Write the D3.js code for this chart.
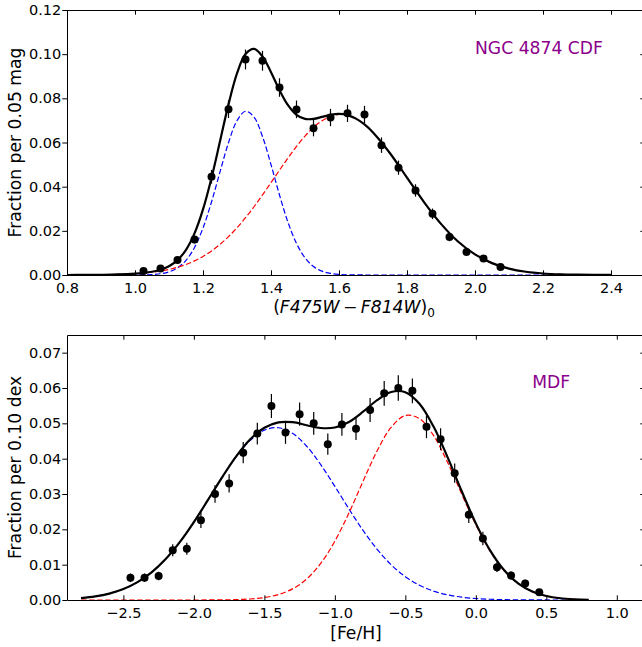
<!DOCTYPE html>
<html>
<head>
<meta charset="utf-8">
<script src="https://cdn.jsdelivr.net/npm/d3@7"></script>
<style>
  body { margin: 0; background: #fff; }
  svg { display: block; font-family: "DejaVu Sans", sans-serif; }
</style>
</head>
<body>
<svg id="chart" width="642" height="647"></svg>
<script>
/* global d3 */

// ---- top panel: colour distribution (CDF) ----
const cdfBinX = [1.025, 1.075, 1.125, 1.175, 1.225, 1.275, 1.325, 1.375, 1.425, 1.475, 1.525,
                 1.575, 1.625, 1.675, 1.725, 1.775, 1.825, 1.875, 1.925, 1.975, 2.025, 2.075];
const cdfFrac = [0.0018, 0.0030, 0.0068, 0.0161, 0.0445, 0.0751, 0.0976, 0.0970, 0.0849, 0.0750, 0.0665,
                 0.0713, 0.0732, 0.0727, 0.0588, 0.0486, 0.0383, 0.0277, 0.0172, 0.0104, 0.0075, 0.0036];
const cdfErr  = [0.0006, 0.0008, 0.0012, 0.0018, 0.0031, 0.0040, 0.0045, 0.0045, 0.0042, 0.0040, 0.0037,
                 0.0039, 0.0039, 0.0039, 0.0035, 0.0032, 0.0028, 0.0024, 0.0019, 0.0015, 0.0013, 0.0009];

// fitted curves
const cdfGridX = [0.8, 0.85, 0.9, 0.95, 1.0, 1.025, 1.05, 1.075, 1.1, 1.125, 1.15, 1.175, 1.2, 1.225, 1.25,
                  1.275, 1.3, 1.325, 1.35, 1.375, 1.4, 1.425, 1.45, 1.475, 1.5, 1.525, 1.55, 1.575, 1.6,
                  1.625, 1.65, 1.675, 1.7, 1.75, 1.8, 1.85, 1.9, 1.95, 2.0, 2.05, 2.1, 2.15, 2.2, 2.25,
                  2.3, 2.35, 2.4];
const cdfTotal = [0.00001, 0.00004, 0.00011, 0.00026, 0.00061, 0.00094, 0.00148, 0.00237, 0.00395, 0.00672,
                  0.01141, 0.01885, 0.0297, 0.04394, 0.06053, 0.07727, 0.0913, 0.10008, 0.10241, 0.09896,
                  0.09183, 0.08371, 0.07688, 0.07251, 0.07068, 0.07068, 0.07159, 0.07255, 0.07294, 0.07241,
                  0.07082, 0.06817, 0.06457, 0.05514, 0.04409, 0.03302, 0.02315, 0.01519, 0.00934, 0.00538,
                  0.0029, 0.00146, 0.00069, 0.00031, 0.00013, 0.00005, 0.00002];
const cdfBlue  = [0, 0, 0, 0, 0.00002, 0.00007, 0.00021, 0.00056, 0.00141, 0.00321, 0.00663, 0.01246,
                  0.02129, 0.03306, 0.04667, 0.0599, 0.0699, 0.07415, 0.07151, 0.0627, 0.04999, 0.03623,
                  0.02387, 0.0143, 0.00779, 0.00385, 0.00173, 0.00071, 0.00026, 0.00009, 0.00003, 0.00001,
                  0, 0, 0, 0, 0, 0, 0, 0, 0, 0, 0, 0, 0, 0, 0];
const cdfRed   = [0.00001, 0.00004, 0.00011, 0.00026, 0.00059, 0.00087, 0.00127, 0.00181, 0.00254, 0.00351,
                  0.00478, 0.00639, 0.00841, 0.01088, 0.01386, 0.01737, 0.0214, 0.02593, 0.0309, 0.03626,
                  0.04184, 0.04748, 0.05301, 0.05821, 0.06289, 0.06683, 0.06986, 0.07184, 0.07268, 0.07232,
                  0.07079, 0.06816, 0.06457, 0.05514, 0.04409, 0.03302, 0.02315, 0.01519, 0.00934, 0.00538,
                  0.0029, 0.00146, 0.00069, 0.00031, 0.00013, 0.00005, 0.00002];

const cdfXTicks = [0.8, 1.0, 1.2, 1.4, 1.6, 1.8, 2.0, 2.2, 2.4];
const cdfYTicks = [0, 0.02, 0.04, 0.06, 0.08, 0.10, 0.12];

// ---- bottom panel: metallicity distribution (MDF) ----
const mdfBinX = [-2.45, -2.35, -2.25, -2.15, -2.05, -1.95, -1.85, -1.75, -1.65, -1.55, -1.45, -1.35, -1.25,
                 -1.15, -1.05, -0.95, -0.85, -0.75, -0.65, -0.55, -0.45, -0.35, -0.25, -0.15, -0.05,
                 0.05, 0.15, 0.25, 0.35, 0.45];
const mdfFrac = [0.0063, 0.0063, 0.0068, 0.0141, 0.0145, 0.0226, 0.0300, 0.0330, 0.0417, 0.0471, 0.0549,
                 0.0474, 0.0526, 0.0500, 0.0441, 0.0497, 0.0485, 0.0538, 0.0585, 0.0600, 0.0592, 0.0490,
                 0.0455, 0.0359, 0.0241, 0.0174, 0.0093, 0.0069, 0.0047, 0.0022];
const mdfErr  = [0.0012, 0.0012, 0.0012, 0.0017, 0.0017, 0.0022, 0.0025, 0.0026, 0.0030, 0.0031, 0.0034,
                 0.0032, 0.0033, 0.0032, 0.0030, 0.0032, 0.0032, 0.0034, 0.0035, 0.0036, 0.0035, 0.0032,
                 0.0031, 0.0027, 0.0023, 0.0019, 0.0014, 0.0012, 0.0010, 0.0007];

const mdfGridX = [-2.8, -2.7, -2.6, -2.5, -2.4, -2.3, -2.2, -2.1, -2.0, -1.9, -1.8, -1.7, -1.6, -1.5, -1.4,
                  -1.3, -1.2, -1.1, -1.0, -0.9, -0.8, -0.7, -0.6, -0.5, -0.4, -0.3, -0.2, -0.1, 0.0,
                  0.1, 0.2, 0.3, 0.4, 0.5, 0.6, 0.7, 0.8];
const mdfTotal = [0.00054, 0.00102, 0.00182, 0.0031, 0.00505, 0.00783, 0.01159, 0.01636, 0.02204, 0.02832,
                  0.03473, 0.04066, 0.04549, 0.04876, 0.05029, 0.05032, 0.04947, 0.04868, 0.04882, 0.0504,
                  0.05328, 0.05656, 0.05887, 0.05881, 0.05553, 0.04909, 0.04037, 0.03077, 0.02169, 0.01412,
                  0.00849, 0.0047, 0.0024, 0.00114, 0.00049, 0.0002, 0.00007];
const mdfBlue  = [0.00054, 0.00102, 0.00182, 0.0031, 0.00505, 0.00783, 0.01159, 0.01636, 0.02204, 0.02831,
                  0.03469, 0.04055, 0.0452, 0.04807, 0.04875, 0.04717, 0.04352, 0.03831, 0.03217, 0.02576,
                  0.01968, 0.01434, 0.00996, 0.0066, 0.00418, 0.00252, 0.00145, 0.0008, 0.00042, 0.00021,
                  0.0001, 0.00004, 0.00002, 0.00001, 0, 0, 0];
const mdfRed   = [0, 0, 0, 0, 0, 0, 0, 0, 0, 0.00001, 0.00004, 0.00011, 0.00029, 0.00069, 0.00154, 0.00315,
                  0.00595, 0.01037, 0.01665, 0.02464, 0.0336, 0.04222, 0.04891, 0.05221, 0.05135, 0.04657,
                  0.03892, 0.02997, 0.02127, 0.01391, 0.00839, 0.00466, 0.00238, 0.00113, 0.00049, 0.0002,
                  0.00007];

const mdfXTicks = [-2.5, -2.0, -1.5, -1.0, -0.5, 0.0, 0.5, 1.0];
const mdfYTicks = [0, 0.01, 0.02, 0.03, 0.04, 0.05, 0.06, 0.07];

//////////////////////////////////////////////////////////////////////////////////////////////////

let svg = d3.select("#chart");
const plotLeft = 67, plotRight = 645;
const tickLen = 4.7;
const tickFont = 14.5, labelFont = 17.2;

svg.append("rect").attr("width", 642).attr("height", 647).attr("fill", "#fff");

function drawPanel(p) {
    const x = d3.scaleLinear().domain(p.xDomain).range([plotLeft, plotRight]);
    const y = d3.scaleLinear().domain(p.yDomain).range([p.bottom, p.top]);
    const g = svg.append("g");

    const line = d3.line()
        .x(function(d) { return x(d[0]); })
        .y(function(d) { return y(d[1]); })
        .curve(d3.curveCatmullRom);

    // dashed components
    g.append("path")
        .datum(d3.zip(p.gridX, p.blue))
        .attr("d", line)
        .attr("fill", "none")
        .attr("stroke", "#0000ff")
        .attr("stroke-width", 1.2)
        .attr("stroke-dasharray", "5.5,2.5");
    g.append("path")
        .datum(d3.zip(p.gridX, p.red))
        .attr("d", line)
        .attr("fill", "none")
        .attr("stroke", "#ff0000")
        .attr("stroke-width", 1.2)
        .attr("stroke-dasharray", "5.5,2.5");

    // total fit
    g.append("path")
        .datum(d3.zip(p.gridX, p.total))
        .attr("d", line)
        .attr("fill", "none")
        .attr("stroke", "#000")
        .attr("stroke-width", 2.2);

    // error bars + points
    const pts = d3.zip(p.binX, p.frac, p.err);
    g.append("g").selectAll("line")
        .data(pts)
        .enter().append("line")
        .attr("x1", function(d) { return x(d[0]); })
        .attr("x2", function(d) { return x(d[0]); })
        .attr("y1", function(d) { return y(d[1] - d[2]); })
        .attr("y2", function(d) { return y(d[1] + d[2]); })
        .attr("stroke", "#000")
        .attr("stroke-width", 1.2);
    g.append("g").selectAll("circle")
        .data(pts)
        .enter().append("circle")
        .attr("cx", function(d) { return x(d[0]); })
        .attr("cy", function(d) { return y(d[1]); })
        .attr("r", 4)
        .attr("fill", "#000");

    // axes: labelled left/bottom, tick-only top/right
    g.append("g")
        .attr("transform", "translate(" + plotLeft + ",0)")
        .call(d3.axisLeft(y).tickValues(p.yTicks).tickFormat(d3.format(".2f"))
            .tickSize(tickLen).tickSizeOuter(0).tickPadding(1))
        .attr("font-size", tickFont).attr("font-family", "DejaVu Sans");
    g.append("g")
        .attr("transform", "translate(0," + p.bottom + ")")
        .call(d3.axisBottom(x).tickValues(p.xTicks).tickFormat(d3.format(".1f"))
            .tickSize(-tickLen).tickSizeOuter(0).tickPadding(7.4))
        .attr("font-size", tickFont).attr("font-family", "DejaVu Sans");
    g.append("g")
        .attr("transform", "translate(0," + p.top + ")")
        .call(d3.axisTop(x).tickValues(p.xTicks).tickFormat("").tickSize(-tickLen).tickSizeOuter(0));
    g.append("g")
        .attr("transform", "translate(" + plotRight + ",0)")
        .call(d3.axisRight(y).tickValues(p.yTicks).tickFormat("").tickSize(-tickLen).tickSizeOuter(0));

    // y label
    g.append("text")
        .attr("transform", "translate(20.5," + (p.top + p.bottom) / 2 + ") rotate(-90)")
        .attr("text-anchor", "middle")
        .attr("font-size", labelFont)
        .text(p.yLabel);

    // panel tag
    g.append("text")
        .attr("x", x(p.tag[0]))
        .attr("y", y(p.tag[1]))
        .attr("font-size", labelFont)
        .attr("fill", "#8b008b")
        .text(p.tag[2]);

    return g;
}

const cdfPanel = drawPanel({
    xDomain: [0.8, 2.5], yDomain: [0, 0.12], top: 10, bottom: 275,
    binX: cdfBinX, frac: cdfFrac, err: cdfErr,
    gridX: cdfGridX, total: cdfTotal, blue: cdfBlue, red: cdfRed,
    xTicks: cdfXTicks, yTicks: cdfYTicks,
    yLabel: "Fraction per 0.05 mag",
    tag: [2.0, 0.10, "NGC 4874 CDF"]
});

const mdfPanel = drawPanel({
    xDomain: [-2.9, 1.2], yDomain: [0, 0.075], top: 335, bottom: 600,
    binX: mdfBinX, frac: mdfFrac, err: mdfErr,
    gridX: mdfGridX, total: mdfTotal, blue: mdfBlue, red: mdfRed,
    xTicks: mdfXTicks, yTicks: mdfYTicks,
    yLabel: "Fraction per 0.10 dex",
    tag: [0.4, 0.06, "MDF"]
});

// x labels
const xl = cdfPanel.append("text")
    .attr("x", 354).attr("y", 313)
    .attr("text-anchor", "middle")
    .attr("font-size", labelFont);
xl.append("tspan").text("(");
xl.append("tspan").attr("font-style", "italic").text("F475W");
xl.append("tspan").text("\u2009\u2212\u2009");
xl.append("tspan").attr("font-style", "italic").text("F814W");
xl.append("tspan").text(")");
xl.append("tspan").attr("font-size", 12).attr("dy", 4).text("0");

mdfPanel.append("text")
    .attr("x", 356).attr("y", 639)
    .attr("text-anchor", "middle")
    .attr("font-size", labelFont)
    .text("[Fe/H]");
</script>
</body>
</html>
